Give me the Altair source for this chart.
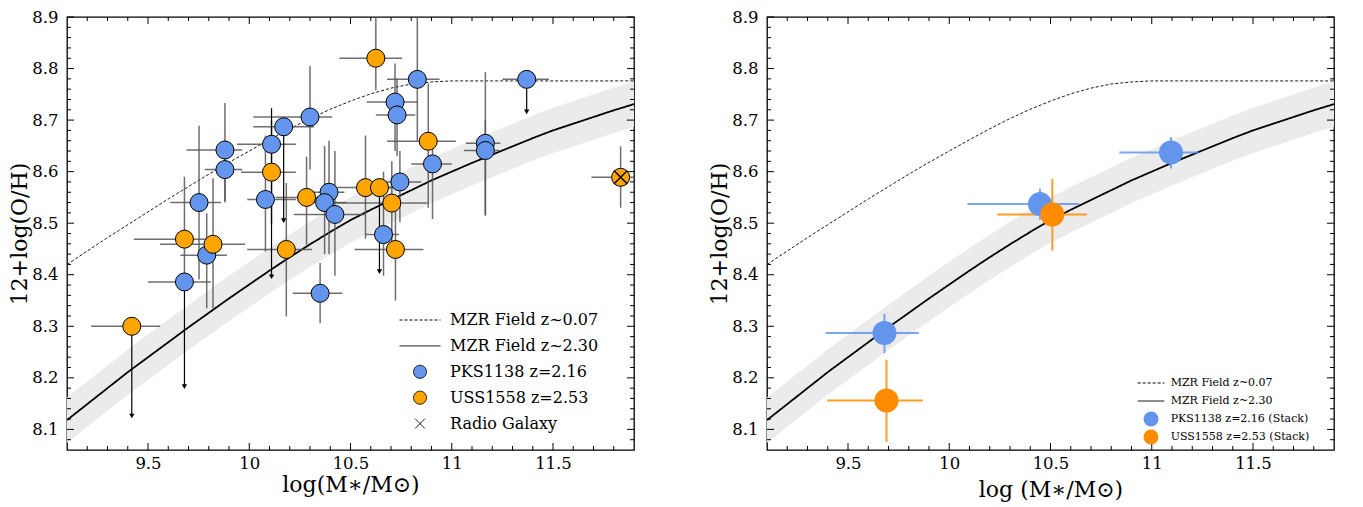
import altair as alt
import pandas as pd

W = 567
H = 433
FONT = "DejaVu Serif"
BLUE = "#6495ED"
ORANGE = "#FFA500"
DORANGE = "#FF8C00"

# ---- curves ----
curve_x = [9.1, 9.2, 9.3, 9.4, 9.5, 9.6, 9.7, 9.8, 9.9, 10.0, 10.1, 10.2, 10.3, 10.4, 10.5,
           10.6, 10.7, 10.8, 10.9, 11.0, 11.1, 11.2, 11.3, 11.4, 11.5, 11.6, 11.7, 11.8, 11.9]
mzr_z007 = [8.420, 8.446, 8.472, 8.497, 8.522, 8.547, 8.571, 8.595, 8.618, 8.640, 8.662, 8.683,
            8.703, 8.721, 8.737, 8.751, 8.762, 8.770, 8.774, 8.776, 8.776, 8.776, 8.776, 8.776,
            8.776, 8.776, 8.776, 8.776, 8.776]
mzr_z230 = [8.118, 8.149, 8.180, 8.211, 8.240, 8.269, 8.298, 8.326, 8.354, 8.381, 8.408, 8.434,
            8.459, 8.483, 8.506, 8.526, 8.545, 8.564, 8.583, 8.600, 8.617, 8.633, 8.649, 8.665,
            8.680, 8.693, 8.706, 8.719, 8.731]
band_half = 0.044

# ---- axis ticks ----
x_major = [9.5, 10, 10.5, 11, 11.5]
x_minor = [9.2, 9.3, 9.4, 9.6, 9.7, 9.8, 9.9, 10.1, 10.2, 10.3, 10.4, 10.6, 10.7, 10.8, 10.9,
           11.1, 11.2, 11.3, 11.4, 11.6, 11.7, 11.8]
y_major = [8.1, 8.2, 8.3, 8.4, 8.5, 8.6, 8.7, 8.8, 8.9]
y_minor = [8.08, 8.12, 8.14, 8.16, 8.18, 8.22, 8.24, 8.26, 8.28, 8.32, 8.34, 8.36, 8.38,
           8.42, 8.44, 8.46, 8.48, 8.52, 8.54, 8.56, 8.58, 8.62, 8.64, 8.66, 8.68,
           8.72, 8.74, 8.76, 8.78, 8.82, 8.84, 8.86, 8.88]

# ---- left panel: individual galaxies ----
pks_x = [10.83, 11.37, 10.72, 10.73, 10.30, 10.17, 10.11, 9.88, 9.88, 10.08, 9.752, 10.394,
         10.372, 10.423, 10.663, 10.744, 10.905, 11.166, 11.166, 9.79, 9.68, 10.35]
pks_y = [8.779, 8.779, 8.735, 8.710, 8.706, 8.687, 8.653, 8.642, 8.604, 8.546, 8.540, 8.560,
         8.540, 8.517, 8.478, 8.580, 8.615, 8.655, 8.641, 8.438, 8.386, 8.364]
pks_xlo = [10.68, 11.25, 10.58, 10.625, 10.02, 10.02, 9.94, 9.69, 9.78, 9.99, 9.61, 10.29,
           10.25, 10.22, 10.575, 10.65, 10.80, 11.07, 11.06, 9.66, 9.50, 10.215]
pks_xhi = [10.94, 11.48, 10.83, 10.82, 10.41, 10.32, 10.23, 9.965, 9.965, 10.23, 9.86, 10.47,
           10.48, 10.57, 10.74, 10.85, 11.00, 11.24, 11.235, 9.89, 9.81, 10.46]
pks_ylo = [8.660, 8.716, 8.640, 8.630, 8.604, 8.505, 8.396, 8.540, 8.543, 8.445, 8.391, 8.440,
           8.440, 8.398, 8.398, 8.502, 8.508, 8.515, 8.515, 8.335, 8.183, 8.306]
pks_yhi = [8.950, 8.779, 8.810, 8.780, 8.805, 8.687, 8.723, 8.733, 8.660, 8.670, 8.689, 8.660,
           8.650, 8.640, 8.600, 8.640, 8.660, 8.793, 8.700, 8.519, 8.386, 8.423]
pks_lim = [0, 1, 0, 0, 0, 1, 1, 0, 0, 0, 0, 0, 0, 0, 0, 0, 0, 0, 0, 0, 1, 0]

uss_x = [10.625, 10.884, 10.11, 10.283, 10.574, 10.643, 10.704, 9.68, 9.821, 10.183, 10.722,
         9.42, 11.834]
uss_y = [8.820, 8.659, 8.599, 8.550, 8.569, 8.569, 8.539, 8.469, 8.459, 8.449, 8.449, 8.300,
         8.589]
uss_xlo = [10.445, 10.68, 9.96, 10.13, 10.435, 10.53, 10.42, 9.43, 9.56, 9.99, 10.52, 9.22,
           11.69]
uss_xhi = [10.755, 11.02, 10.23, 10.40, 10.70, 10.75, 10.88, 9.82, 9.98, 10.31, 10.86, 9.56,
           11.95]
uss_ylo = [8.758, 8.530, 8.500, 8.458, 8.470, 8.406, 8.460, 8.400, 8.335, 8.319, 8.350, 8.126,
           8.530]
uss_yhi = [8.950, 8.771, 8.700, 8.629, 8.670, 8.569, 8.620, 8.590, 8.587, 8.578, 8.530, 8.300,
           8.649]
uss_lim = [0, 0, 0, 0, 0, 1, 0, 0, 0, 0, 0, 1, 0]

radio_x = [11.834]
radio_y = [8.589]

# ---- right panel: stacks ----
pks_stack_x = [9.68, 10.448, 11.095]
pks_stack_y = [8.287, 8.537, 8.637]
pks_stack_xlo = [9.39, 10.09, 10.84]
pks_stack_xhi = [9.85, 10.64, 11.23]
pks_stack_ylo = [8.248, 8.507, 8.606]
pks_stack_yhi = [8.324, 8.567, 8.667]

uss_stack_x = [9.69, 10.509]
uss_stack_y = [8.156, 8.517]
uss_stack_xlo = [9.397, 10.237]
uss_stack_xhi = [9.87, 10.679]
uss_stack_ylo = [8.076, 8.447]
uss_stack_yhi = [8.235, 8.586]

left_labels = ["MZR Field z~0.07", "MZR Field z~2.30", "PKS1138 z=2.16", "USS1558 z=2.53",
               "Radio Galaxy"]
right_labels = ["MZR Field z~0.07 ", "MZR Field z~2.30 ", "PKS1138 z=2.16 (Stack)",
                "USS1558 z=2.53 (Stack)"]

XS = alt.Scale(domain=[9.1, 11.9], nice=False, zero=False)
YS = alt.Scale(domain=[8.06, 8.9], nice=False, zero=False)


def x_axis(title, tpad):
    return alt.Axis(values=x_major, format="~g", title=title, ticks=False, tickSize=0,
                    domain=False, grid=False, labelFont=FONT, labelFontSize=16.5,
                    labelPadding=5, labelColor="black", labelFlush=False,
                    titleFont=FONT, titleFontSize=22, titleFontWeight="normal",
                    titleColor="black", titlePadding=tpad)


def y_axis():
    return alt.Axis(values=y_major, format=".1f", title="12+log(O/H)", ticks=False, tickSize=0,
                    domain=False, grid=False, labelFont=FONT, labelFontSize=16.5,
                    labelPadding=9, labelColor="black", labelFlush=False,
                    titleFont=FONT, titleFontSize=22, titleFontWeight="normal",
                    titleColor="black", titlePadding=0)


def tick_layers():
    xmaj = pd.DataFrame({"tx": x_major})
    xmin = pd.DataFrame({"tx": x_minor})
    ymaj = pd.DataFrame({"ty": y_major})
    ymin = pd.DataFrame({"ty": y_minor})
    layers = []
    for df, ln in ((xmaj, 7), (xmin, 4)):
        base = alt.Chart(df).mark_rule(color="black", strokeWidth=1)
        layers.append(base.encode(x=alt.X("tx:Q", scale=XS), y=alt.value(H), y2=alt.value(H - ln)))
        layers.append(base.encode(x=alt.X("tx:Q", scale=XS), y=alt.value(0), y2=alt.value(ln)))
    for df, ln in ((ymaj, 7), (ymin, 4)):
        base = alt.Chart(df).mark_rule(color="black", strokeWidth=1)
        layers.append(base.encode(y=alt.Y("ty:Q", scale=YS), x=alt.value(0), x2=alt.value(ln)))
        layers.append(base.encode(y=alt.Y("ty:Q", scale=YS), x=alt.value(W), x2=alt.value(W - ln)))
    return layers


def curve_layers(labels, shapes, fills, strokes, dashes, legend, xtitle, xtpad):
    cdf = pd.DataFrame({
        "x": curve_x + curve_x,
        "y": mzr_z007 + mzr_z230,
        "label": [labels[0]] * len(curve_x) + [labels[1]] * len(curve_x),
    })
    band = (alt.Chart(pd.DataFrame({"x": curve_x, "y": mzr_z230}))
            .transform_calculate(lo=f"datum.y - {band_half}", hi=f"datum.y + {band_half}")
            .mark_area(color="#ebebeb", clip=True)
            .encode(x=alt.X("x:Q", scale=XS, axis=x_axis(xtitle, xtpad)),
                    y=alt.Y("lo:Q", scale=YS, axis=y_axis()), y2="hi:Q"))
    sc = lambda rng: alt.Scale(domain=labels, range=rng)
    enc = dict(
        x=alt.X("x:Q", scale=XS, axis=x_axis(xtitle, xtpad)),
        y=alt.Y("y:Q", scale=YS, axis=y_axis()),
        stroke=alt.Stroke("label:N", scale=sc(strokes), legend=legend),
        strokeDash=alt.StrokeDash("label:N", scale=sc(dashes), legend=legend),
    )
    dashed = (alt.Chart(cdf).transform_filter(alt.datum.label == labels[0])
              .mark_line(strokeWidth=0.9, clip=True).encode(**enc))
    solid = (alt.Chart(cdf).transform_filter(alt.datum.label == labels[1])
             .mark_line(strokeWidth=1.8, clip=True).encode(**enc))
    return [band, dashed, solid], sc


def make_legend(x, y, size, fsize, rowpad, loff):
    return alt.Legend(title=None, orient="none", legendX=x, legendY=y, padding=0,
                      labelFont=FONT, labelFontSize=fsize, labelColor="black", labelLimit=400,
                      labelOffset=loff, symbolSize=size, symbolStrokeWidth=1,
                      symbolFillColor="transparent", symbolStrokeColor="black",
                      symbolOpacity=1, rowPadding=rowpad, gridAlign="all")


# ================= left panel =================
left_shapes = ["M-3.15,0H3.15", "M-3.15,0H3.15", "circle", "circle",
               "M-0.75,-0.75L0.75,0.75M-0.75,0.75L0.75,-0.75"]
left_fills = ["transparent", "transparent", BLUE, ORANGE, "transparent"]
left_strokes = ["black", "black", "black", "black", "black"]
left_dashes = [[3, 2], [1, 0], [1, 0], [1, 0], [1, 0]]
left_legend = make_legend(345, 295, 169, 16, 7.9, 22)

XT_L = "log(M\u2217/M\u2299)"
lcurves, lsc = curve_layers(left_labels, left_shapes, left_fills, left_strokes, left_dashes,
                            left_legend, XT_L, 3)

pts = pd.DataFrame({
    "x": pks_x + uss_x, "y": pks_y + uss_y,
    "xlo": pks_xlo + uss_xlo, "xhi": pks_xhi + uss_xhi,
    "ylo": pks_ylo + uss_ylo, "yhi": pks_yhi + uss_yhi,
    "lim": pks_lim + uss_lim,
    "label": [left_labels[2]] * len(pks_x) + [left_labels[3]] * len(uss_x),
})
XA = alt.X("x:Q", scale=XS, axis=x_axis(XT_L, 3))
YA = alt.Y("y:Q", scale=YS, axis=y_axis())

herr = alt.Chart(pts).mark_rule(color="#555555", strokeWidth=1.5, opacity=0.85, clip=True).encode(
    x=alt.X("xlo:Q", scale=XS, axis=x_axis(XT_L, 3)), x2="xhi:Q", y=YA)
verr = (alt.Chart(pts).transform_filter("datum.lim == 0")
        .mark_rule(color="#555555", strokeWidth=1.5, opacity=0.85, clip=True)
        .encode(x=XA, y=alt.Y("ylo:Q", scale=YS, axis=y_axis()), y2="yhi:Q"))
vlim = (alt.Chart(pts).transform_filter("datum.lim == 1")
        .mark_rule(color="black", strokeWidth=1.2, clip=True)
        .encode(x=XA, y=alt.Y("ylo:Q", scale=YS, axis=y_axis()), y2="yhi:Q"))
arrows = (alt.Chart(pts).transform_filter("datum.lim == 1")
          .mark_point(shape="triangle-down", filled=True, color="black", size=28, opacity=1)
          .encode(x=XA, y=alt.Y("ylo:Q", scale=YS, axis=y_axis())))
circles = alt.Chart(pts).mark_point(size=324, strokeWidth=1, opacity=1).encode(
    x=XA, y=YA,
    fill=alt.Fill("label:N", scale=lsc(left_fills), legend=left_legend),
    shape=alt.Shape("label:N", scale=lsc(left_shapes), legend=left_legend),
    stroke=alt.Stroke("label:N", scale=lsc(left_strokes), legend=left_legend),
)
rg = alt.Chart(pd.DataFrame({"x": radio_x, "y": radio_y, "label": [left_labels[4]]})).mark_point(
    size=324, strokeWidth=1.5, opacity=1).encode(
    x=XA, y=YA,
    fill=alt.Fill("label:N", scale=lsc(left_fills), legend=left_legend),
    shape=alt.Shape("label:N", scale=lsc(left_shapes), legend=left_legend),
    stroke=alt.Stroke("label:N", scale=lsc(left_strokes), legend=left_legend),
)

left = alt.layer(*lcurves, herr, verr, vlim, arrows, circles, rg, *tick_layers()).properties(
    width=W, height=H)

# ================= right panel =================
right_shapes = ["M-1.78,0H1.78", "M-1.78,0H1.78", "circle", "circle"]
right_fills = ["transparent", "transparent", BLUE, DORANGE]
right_strokes = ["black", "black", "transparent", "transparent"]
right_dashes = [[3, 2], [1, 0], [1, 0], [1, 0]]
right_legend = make_legend(376, 358, 225, 11, -2.3, 11.7)

XT_R = "log (M\u2217/M\u2299)"
rcurves, rsc = curve_layers(right_labels, right_shapes, right_fills, right_strokes, right_dashes,
                            right_legend, XT_R, 8)
RXA = alt.X("x:Q", scale=XS, axis=x_axis(XT_R, 8))
RYA = alt.Y("y:Q", scale=YS, axis=y_axis())

stacks = pd.DataFrame({
    "x": pks_stack_x + uss_stack_x, "y": pks_stack_y + uss_stack_y,
    "xlo": pks_stack_xlo + uss_stack_xlo, "xhi": pks_stack_xhi + uss_stack_xhi,
    "ylo": pks_stack_ylo + uss_stack_ylo, "yhi": pks_stack_yhi + uss_stack_yhi,
    "label": [right_labels[2]] * len(pks_stack_x) + [right_labels[3]] * len(uss_stack_x),
})

r_err = []
for lab, col in ((right_labels[2], BLUE), (right_labels[3], DORANGE)):
    sub = alt.Chart(stacks).transform_filter(alt.datum.label == lab)
    r_err.append(sub.mark_rule(color=col, strokeWidth=2, opacity=0.85, clip=True).encode(
        x=alt.X("xlo:Q", scale=XS, axis=x_axis(XT_R, 8)), x2="xhi:Q", y=RYA))
    r_err.append(sub.mark_rule(color=col, strokeWidth=2, opacity=0.85, clip=True).encode(
        x=RXA, y=alt.Y("ylo:Q", scale=YS, axis=y_axis()), y2="yhi:Q"))

r_pts = alt.Chart(stacks).mark_point(size=576, strokeWidth=0, opacity=1).encode(
    x=RXA, y=RYA,
    fill=alt.Fill("label:N", scale=rsc(right_fills), legend=right_legend),
    shape=alt.Shape("label:N", scale=rsc(right_shapes), legend=right_legend),
    stroke=alt.Stroke("label:N", scale=rsc(right_strokes), legend=right_legend),
)

right = alt.layer(*rcurves, *r_err, r_pts, *tick_layers()).properties(width=W, height=H)

chart = (alt.hconcat(left, right, spacing=72)
         .resolve_scale(fill="independent", shape="independent", stroke="independent",
                        strokeDash="independent")
         .properties(padding={"left": 0, "top": 0, "right": 5, "bottom": 5})
         .configure_view(stroke="black", strokeWidth=1.3)
         .configure_legend(labelFont=FONT, labelColor="black", gridAlign="all"))

chart.save("out.html", embed_options={"renderer": "svg", "actions": False})
